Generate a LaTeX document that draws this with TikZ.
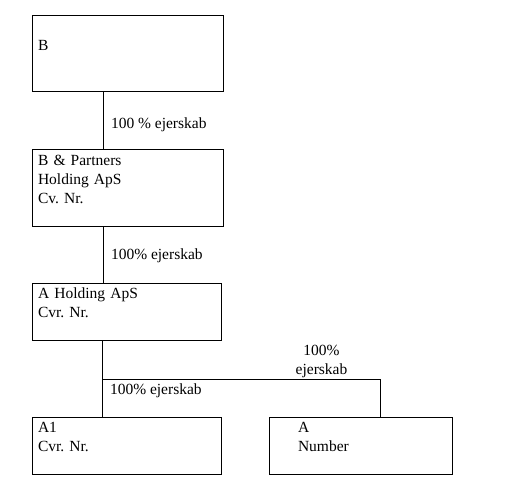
\documentclass[tikz,border=0pt]{standalone}
\usepackage{fontspec}
\setmainfont{Liberation Serif}
\frenchspacing
\begin{document}
\begin{tikzpicture}[x=1pt,y=-1pt,line width=1pt,
    firm/.style={draw,rectangle,inner sep=0pt},
    firmtext/.style={anchor=base west,text width=170pt,align=left,inner sep=0pt,font=\fontsize{15.5}{19}\selectfont},
    share/.style={anchor=base west,inner sep=0pt,font=\fontsize{15.5}{19}\selectfont}]
\useasboundingbox (0,0) rectangle (529,494);
\node[firm,minimum width=191pt,minimum height=76pt] (b) at (127.5,54) {};
\node[firm,minimum width=191pt,minimum height=76pt] (bp) at (127.5,188) {};
\node[firm,minimum width=189pt,minimum height=57pt] (ah) at (126.5,311.5) {};
\node[firm,minimum width=189pt,minimum height=57pt] (aone) at (126.5,445.5) {};
\node[firm,minimum width=183pt,minimum height=57pt] (anum) at (360.5,445.5) {};
\node[firmtext] (btext) at ([shift={(6,35)}]b.north west) {B};
\node[firmtext] (bptext) at ([shift={(6,16)}]bp.north west) {B \& Partners\\Holding ApS\\Cv. Nr.};
\node[firmtext] (ahtext) at ([shift={(6,16)}]ah.north west) {A Holding ApS\\Cvr. Nr.};
\node[firmtext] (aonetext) at ([shift={(6,16)}]aone.north west) {A1\\Cvr. Nr.};
\node[firmtext] (anumtext) at ([shift={(29,16)}]anum.north west) {A\\Number};
\draw ([xshift=72pt]b.south west) -- ([xshift=72pt]bp.north west);
\draw ([xshift=72pt]bp.south west) -- ([xshift=72pt]ah.north west);
\draw ([xshift=71pt]ah.south west) -- ([xshift=71pt]aone.north west);
\draw ([xshift=71pt]ah.south west) ++(0,39) coordinate (split) -| ([xshift=112pt]anum.north west);
\node[share] (bshare) at ([shift={(79,36)}]b.south west) {100 \% ejerskab};
\node[share] (bpshare) at ([shift={(79,33)}]bp.south west) {100\% ejerskab};
\node[share] (aoneshare) at ([shift={(7,15)}]split) {100\% ejerskab};
\node[anchor=south,align=center,inner sep=0pt,font=\fontsize{15.5}{19}\selectfont] (anumshare) at ([shift={(53,-1)}]anum.north west |- split) {100\%\\ejerskab};
\end{tikzpicture}
\end{document}
